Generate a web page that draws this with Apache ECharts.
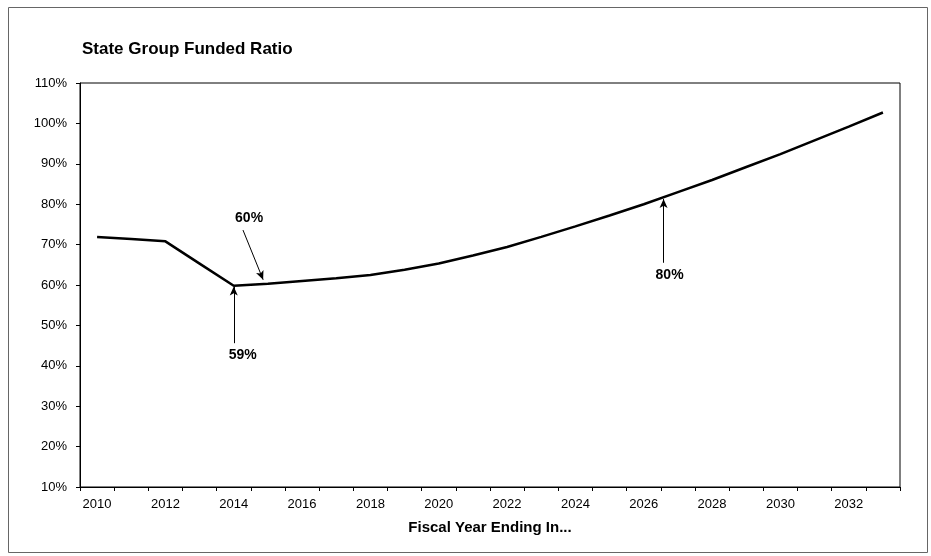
<!DOCTYPE html>
<html>
<head>
<meta charset="utf-8">
<script src="https://cdn.jsdelivr.net/npm/echarts@6/dist/echarts.min.js"></script>
<style>
html,body{margin:0;padding:0;background:#fff;}
#c{width:931px;height:556px;}
</style>
</head>
<body>
<div id="c"></div>
<script>
const years = ['2010','2011','2012','2013','2014','2015','2016','2017','2018','2019','2020','2021',
  '2022','2023','2024','2025','2026','2027','2028','2029','2030','2031','2032','2033'];
const fundedRatio = [71.9,71.4,70.8,65.3,59.8,60.3,61.0,61.7,62.5,63.8,65.3,67.3,
  69.4,71.9,74.5,77.2,80.0,83.0,86.0,89.2,92.4,95.8,99.2,102.7];
const yTicks = [10,20,30,40,50,60,70,80,90,100,110];
// annotations: label, arrow start [year, value], arrow tip [year, value]
const annoLabels = ['60%','59%','80%'];
const annoFrom = [[2014.27,73.6],[2014.0,45.6],[2026.58,65.5]];
const annoTo = [[2014.86,61.3],[2014.0,59.6],[2026.58,81.3]];

const font = '"Liberation Sans", Arial, sans-serif';
const chart = echarts.init(document.getElementById('c'), null, {renderer:'canvas'});

const markData = annoLabels.map((t,i)=>[
  {coord: annoFrom[i], label:{show:true, formatter:t, offset: i===0 ? [8,0] : (i===2 ? [6,0] : [9,0])}},
  {coord: annoTo[i]}
]);

chart.setOption({
  animation:false,
  backgroundColor:'#fff',
  title:{
    text:'State Group Funded Ratio',
    left:77, top:36,
    textStyle:{fontFamily:font, fontSize:17, fontWeight:'bold', color:'#000'}
  },
  graphic:[{
    type:'rect', shape:{x:8.5,y:7.5,width:919,height:545},
    style:{fill:'none', stroke:'#666', lineWidth:1}, silent:true
  }],
  grid:{left:80, right:31, top:83, bottom:69, show:true, borderColor:'#000', borderWidth:1, backgroundColor:'transparent'},
  xAxis:[{
    type:'category', data:years, boundaryGap:true,
    name:'Fiscal Year Ending In...', nameLocation:'middle', nameGap:33,
    nameTextStyle:{fontFamily:font, fontSize:15, fontWeight:'bold', color:'#000'},
    axisLine:{lineStyle:{color:'#000', width:1}},
    axisTick:{show:true, interval:0, length:4, lineStyle:{color:'#000'}},
    axisLabel:{interval:1, fontFamily:font, fontSize:13, color:'#000', margin:11},
    splitLine:{show:false}
  },{
    type:'value', min:2009.5, max:2033.5, show:false
  }],
  yAxis:{
    type:'value', min:yTicks[0], max:yTicks[yTicks.length-1], interval:10,
    axisLine:{show:true, lineStyle:{color:'#000', width:1}},
    axisTick:{show:true, length:4, lineStyle:{color:'#000'}},
    axisLabel:{formatter:v=>v+'%', fontFamily:font, fontSize:13, color:'#000', margin:13},
    splitLine:{show:false}
  },
  series:[{
    type:'line', data:fundedRatio, xAxisIndex:0,
    symbol:'none', smooth:false,
    lineStyle:{color:'#000', width:2.5}
  },{
    type:'line', xAxisIndex:1, data:[], symbol:'none',
    markLine:{
      silent:true, symbol:['none','arrow'], symbolSize:[6,9],
      lineStyle:{color:'#000', width:1, type:'solid'},
      label:{show:true, position:'start', distance:5, fontFamily:font, fontSize:14, fontWeight:'bold', color:'#000'},
      data:markData
    }
  }]
});
</script>
</body>
</html>
